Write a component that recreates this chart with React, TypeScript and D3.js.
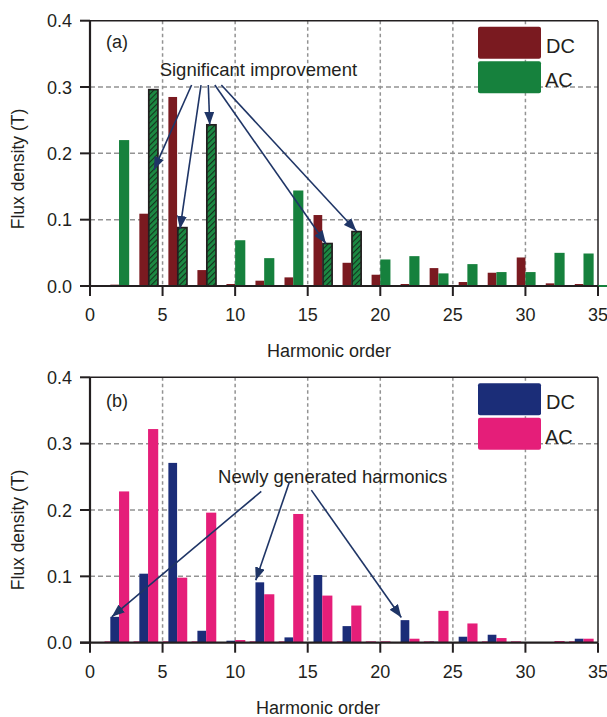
import React from "react";
import * as d3 from "d3";

// harmonic orders carrying the DC / AC bars
const orders = [2, 4, 6, 8, 10, 12, 14, 16, 18, 20, 22, 24, 26, 28, 30, 32, 34];
const oddOrders = [1, 3, 5, 7, 9, 11, 13, 15, 17, 19, 21, 23, 25, 27, 29, 31, 33];

// (a) flux density (T)
const dcA = [0.002, 0.109, 0.285, 0.024, 0.003, 0.008, 0.013, 0.107, 0.035, 0.017, 0.003, 0.027, 0.006, 0.02, 0.043, 0.004, 0.003];
const acA = [0.22, 0.296, 0.088, 0.243, 0.069, 0.042, 0.144, 0.064, 0.082, 0.04, 0.045, 0.019, 0.033, 0.021, 0.021, 0.05, 0.049];
const improvedA = [4, 6, 8, 16, 18];

// (b) flux density (T)
const dcB = [0.039, 0.104, 0.271, 0.018, 0.003, 0.091, 0.008, 0.102, 0.025, 0.001, 0.034, 0.0015, 0.009, 0.012, 0.001, 0.001, 0.006];
const acB = [0.228, 0.322, 0.098, 0.196, 0.004, 0.073, 0.194, 0.071, 0.056, 0.002, 0.006, 0.048, 0.029, 0.007, 0.001, 0.0025, 0.006];
const acBOdd = [0.002, 0.002, 0.002, 0.002, 0.001, 0.002, 0.002, 0.001, 0.002, 0.002, 0.001, 0.002, 0.001, 0.002, 0.002, 0.001, 0.002];

const xTicks = [0, 5, 10, 15, 20, 25, 30, 35];
const yTicks = [0, 0.1, 0.2, 0.3, 0.4];
const xGrid = [5, 10, 15, 20, 25, 30];
const yGrid = [0.1, 0.2, 0.3];

// annotation arrows, [harmonic order, flux density]
const arrowsFromA = [[7.0, 0.303], [7.65, 0.303], [8.15, 0.303], [8.6, 0.303], [9.05, 0.303]];
const arrowsToA = [[4.4, 0.175], [6.2, 0.086], [8.25, 0.243], [16.25, 0.064], [18.35, 0.083]];
const arrowsFromB = [[11.8, 0.228], [13.75, 0.243], [15.25, 0.23]];
const arrowsToB = [[1.5, 0.039], [11.42, 0.094], [21.45, 0.038]];

const ink = "#231f20";
const font = "'Liberation Sans', Arial, sans-serif";

interface PanelProps {
  top: number;
  bottom: number;
  id: string;
  dc: number[];
  ac: number[];
  acOdd?: number[];
  improved?: number[];
  dcColor: string;
  acColor: string;
  tag: string;
  tagY: number;
  note: string;
  noteX: number;
  noteY: number;
  from: number[][];
  to: number[][];
  tail?: boolean;
  yLabelY: number;
  xLabelX: number;
}

const Panel: React.FC<PanelProps> = (p) => {
  const x = d3.scaleLinear().domain([0, 35]).range([90, 598]);
  const y = d3.scaleLinear().domain([0, 0.4]).range([p.bottom, p.top]);
  const bar = (n: number, v: number, a: number, b: number, fill: string, key: string, extra = {}) => (
    <rect key={key} x={x(n + a)} width={x(n + b) - x(n + a)} y={y(v)} height={y(0) - y(v)} fill={fill} {...extra} />
  );

  return (
    <g>
      {/* grid */}
      {xGrid.map((t) => (
        <line key={"gx" + t} x1={x(t)} x2={x(t)} y1={y(0.4)} y2={y(0)} stroke="#939393" strokeWidth={1.5} strokeDasharray="3.5,3" />
      ))}
      {yGrid.map((t) => (
        <line key={"gy" + t} x1={x(0)} x2={x(35)} y1={y(t)} y2={y(t)} stroke="#939393" strokeWidth={1.5} strokeDasharray="5,3" />
      ))}

      {/* bars */}
      {p.acOdd && oddOrders.map((n, i) => bar(n, p.acOdd![i], 0, 0.7, p.acColor, "o" + n))}
      {orders.map((n, i) => bar(n, p.dc[i], -0.6, 0, p.dcColor, "d" + n))}
      {orders.map((n, i) =>
        p.improved && p.improved.includes(n)
          ? bar(n, p.ac[i], 0.05, 0.68, `url(#hatch-${p.id})`, "a" + n, { stroke: ink, strokeWidth: 1.7 })
          : bar(n, p.ac[i], 0, 0.7, p.acColor, "a" + n)
      )}

      {/* frame and axes */}
      <line x1={x(0)} x2={x(35)} y1={y(0.4)} y2={y(0.4)} stroke={ink} strokeWidth={1.5} />
      <line x1={x(35)} x2={x(35)} y1={y(0.4)} y2={y(0)} stroke={ink} strokeWidth={1.5} />
      {p.tail && <line x1={x(35)} x2={607} y1={y(0)} y2={y(0)} stroke={p.acColor} strokeWidth={2} />}
      <line x1={x(0)} x2={x(0)} y1={y(0.4)} y2={y(0)} stroke={ink} strokeWidth={2.2} />
      <line x1={x(0) - 10} x2={x(35)} y1={y(0)} y2={y(0)} stroke={ink} strokeWidth={2.2} />
      {yTicks.map((t) => (
        <g key={"yt" + t}>
          <line x1={x(0) - 10} x2={x(0)} y1={y(t)} y2={y(t)} stroke={ink} strokeWidth={2} />
          <text x={72} y={y(t) + 6.5} textAnchor="end" fontSize={18} fill={ink}>{t.toFixed(1)}</text>
        </g>
      ))}
      {xTicks.map((t) => (
        <g key={"xt" + t}>
          <line x1={x(t)} x2={x(t)} y1={y(0)} y2={y(0) + 10} stroke={ink} strokeWidth={2} />
          <text x={x(t)} y={y(0) + 35} textAnchor="middle" fontSize={18} fill={ink}>{t}</text>
        </g>
      ))}
      <text x={p.xLabelX} y={y(0) + 71} textAnchor="middle" fontSize={18} fill={ink}>Harmonic order</text>
      <text transform={`translate(24,${p.yLabelY}) rotate(-90)`} textAnchor="middle" fontSize={17.5} fill={ink}>Flux density (T)</text>

      {/* legend */}
      <rect x={478} y={p.top + 6} width={63} height={32} rx={2} fill={p.dcColor} />
      <rect x={478} y={p.top + 40.5} width={63} height={32} rx={2} fill={p.acColor} />
      <text x={546} y={p.top + 32} fontSize={20} fill={ink}>DC</text>
      <text x={545} y={p.top + 66.5} fontSize={20} fill={ink}>AC</text>

      {/* annotations */}
      <text x={x(1.1)} y={p.tagY} fontSize={18} fill={ink}>{p.tag}</text>
      <text x={x(p.noteX)} y={y(p.noteY)} fontSize={18.5} fill={ink}>{p.note}</text>
      {p.from.map((f, i) => (
        <line key={"ar" + i} x1={x(f[0])} y1={y(f[1])} x2={x(p.to[i][0])} y2={y(p.to[i][1])}
          stroke="#1f3566" strokeWidth={1.6} markerEnd={`url(#head-${p.id})`} />
      ))}
    </g>
  );
};

export default function App() {
  return (
    <svg width={607} height={717} style={{ position: "absolute", left: 0, top: 0, fontFamily: font }}>
      <defs>
        <pattern id="hatch-a" patternUnits="userSpaceOnUse" width={4} height={4} patternTransform="rotate(45)">
          <rect width={4} height={4} fill="#1c8a43" />
          <line x1={0} y1={0} x2={0} y2={4} stroke="#15301d" strokeWidth={2.2} />
        </pattern>
        {["a", "b"].map((k) => (
          <marker key={k} id={`head-${k}`} markerUnits="userSpaceOnUse" viewBox="0 0 13 10" refX={13} refY={5}
            markerWidth={13} markerHeight={10} orient="auto">
            <path d="M0,0 L13,5 L0,10 Z" fill="#1f3566" />
          </marker>
        ))}
      </defs>
      <rect width={607} height={717} fill="#fff" />
      <Panel top={20.7} bottom={286} id="a" dc={dcA} ac={acA} improved={improvedA}
        dcColor="#7a1a20" acColor="#16813d" tag="(a)" tagY={48} note="Significant improvement"
        noteX={4.8} noteY={0.317} from={arrowsFromA} to={arrowsToA} tail yLabelY={169} xLabelX={329} />
      <Panel top={377.3} bottom={642.7} id="b" dc={dcB} ac={acB} acOdd={acBOdd}
        dcColor="#1b2d78" acColor="#e51e79" tag="(b)" tagY={406.5} note="Newly generated harmonics"
        noteX={8.82} noteY={0.2405} from={arrowsFromB} to={arrowsToB} yLabelY={530} xLabelX={318} />
    </svg>
  );
}
